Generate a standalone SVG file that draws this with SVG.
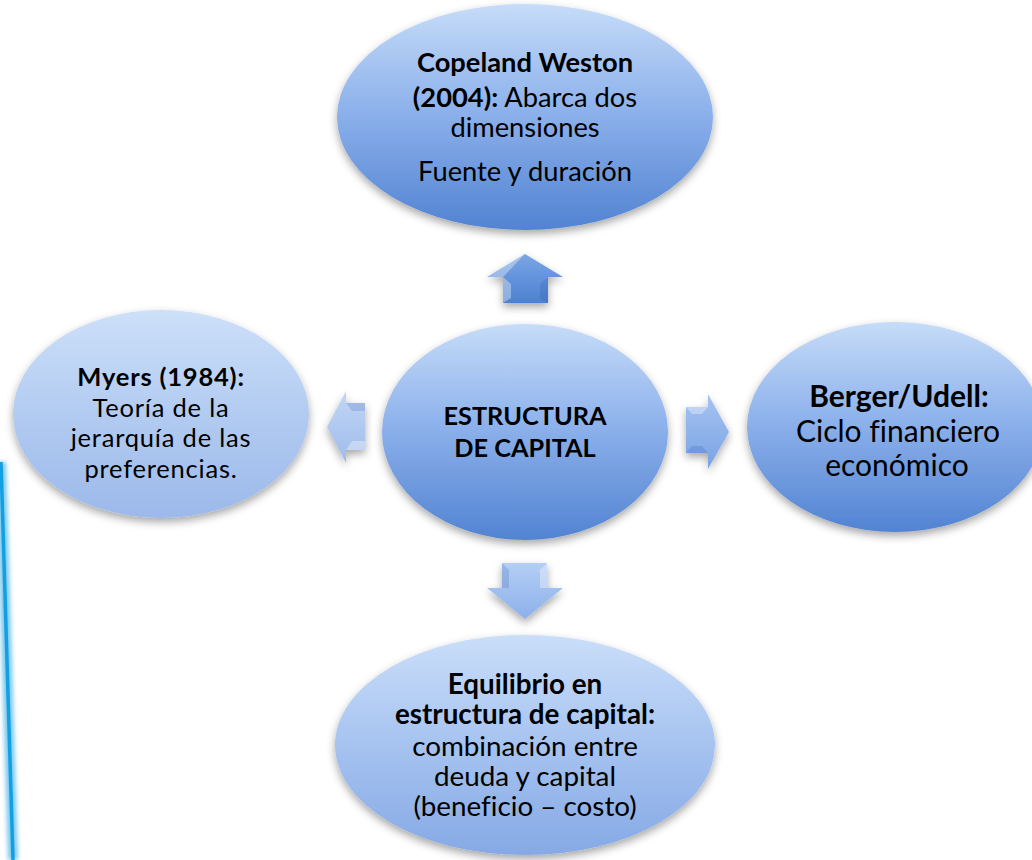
<svg xmlns="http://www.w3.org/2000/svg" width="1032" height="860" viewBox="0 0 1032 860">
  <defs>
    <linearGradient id="gDark" x1="0" y1="0" x2="0" y2="1">
      <stop offset="0" stop-color="#c6dcf8"/>
      <stop offset="0.45" stop-color="#8fb3ec"/>
      <stop offset="1" stop-color="#5283d2"/>
    </linearGradient>
    <linearGradient id="gLight" x1="0" y1="0" x2="0" y2="1">
      <stop offset="0" stop-color="#cde0f9"/>
      <stop offset="0.5" stop-color="#b2cbf1"/>
      <stop offset="1" stop-color="#9cb9ea"/>
    </linearGradient>
    <linearGradient id="gMid" x1="0" y1="0" x2="0" y2="1">
      <stop offset="0" stop-color="#cadef9"/>
      <stop offset="0.5" stop-color="#a6c3f0"/>
      <stop offset="1" stop-color="#86a9e5"/>
    </linearGradient>
    <linearGradient id="aUp" x1="0" y1="0" x2="0" y2="1">
      <stop offset="0" stop-color="#7aa6e6"/>
      <stop offset="1" stop-color="#4d80d0"/>
    </linearGradient>
    <linearGradient id="aLeft" x1="0" y1="0" x2="0" y2="1">
      <stop offset="0" stop-color="#c2d7f6"/>
      <stop offset="1" stop-color="#9fbbea"/>
    </linearGradient>
    <linearGradient id="aRight" x1="0" y1="0" x2="0" y2="1">
      <stop offset="0" stop-color="#a5c4f2"/>
      <stop offset="1" stop-color="#7aa2e3"/>
    </linearGradient>
    <linearGradient id="aDown" x1="0" y1="0" x2="0" y2="1">
      <stop offset="0" stop-color="#b4cff5"/>
      <stop offset="1" stop-color="#8cb0ea"/>
    </linearGradient>
    <filter id="shadow" x="-20%" y="-20%" width="140%" height="150%">
      <feDropShadow dx="0" dy="4" stdDeviation="4" flood-color="#000" flood-opacity="0.35"/>
    </filter>
    <filter id="blur" x="-200%" y="-10%" width="500%" height="120%">
      <feGaussianBlur stdDeviation="2"/>
    </filter>
  </defs>
  <style>
    .t { font-family: Lato, "Open Sans", "Liberation Sans", sans-serif; font-size: 27.3px; fill: #000; text-anchor: middle; font-variant-ligatures: none; font-feature-settings: "liga" 0; }
    .b { font-weight: bold; }
    .l { font-size: 25.5px; letter-spacing: 0.8px; }
    .r { font-size: 30px; }
    .c { font-size: 25.3px; }
    .bt { font-size: 27.8px; }
    .node ellipse { filter: url(#shadow); }
    .arrow polygon.body { filter: url(#shadow); }
    .hl { fill: #ffffff; opacity: 0.35; }
    .dk { fill: #1f4f9e; opacity: 0.18; }
  </style>

  <rect width="1032" height="860" fill="#ffffff"/>

  <!-- left decorative stripe -->
  <g id="stripe">
    <line x1="1" y1="462" x2="13" y2="860" stroke="#7cc9f0" stroke-width="10" filter="url(#blur)"/>
    <line x1="1" y1="462" x2="13" y2="860" stroke="#12a0e2" stroke-width="3.5"/>
  </g>

  <!-- connectors (block arrows) -->
  <g id="connectors">
    <g class="arrow" id="arrow-up">
      <polygon class="body" points="525,254 563,277 548,277 548,303 503,303 503,277 487,277" fill="url(#aUp)"/>
      <polygon class="hl" points="503,277 511,284 511,298 503,303"/>
      <polygon class="hl" points="525,254 487,277 503,277"/>
      <polygon class="dk" points="548,277 540,284 540,298 548,303"/>
    </g>
    <g class="arrow" id="arrow-left">
      <polygon class="body" points="327,427 346,391 346,403 365,403 365,450 346,450 346,463" fill="url(#aLeft)"/>
      <polygon class="hl" points="346,450 352,441 365,441 365,450"/>
      <polygon class="dk" points="346,403 352,411 365,411 365,403"/>
    </g>
    <g class="arrow" id="arrow-right">
      <polygon class="body" points="686,407 708,407 708,394 729,432 708,469 708,453 686,453" fill="url(#aRight)"/>
      <polygon class="hl" points="686,407 708,407 702,414 692,414"/>
      <polygon class="dk" points="686,453 708,453 702,446 692,446"/>
    </g>
    <g class="arrow" id="arrow-down">
      <polygon class="body" points="502,563 547,563 547,588 563,588 525,619 487,588 502,588" fill="url(#aDown)"/>
      <polygon class="hl" points="547,563 540,570 540,588 547,588"/>
      <polygon class="dk" points="502,563 509,570 509,588 502,588"/>
    </g>
  </g>

  <!-- nodes -->
  <g class="node" id="node-top">
    <ellipse cx="525" cy="117" rx="188" ry="113" fill="url(#gDark)"/>
    <text class="t b" x="525" y="72">Copeland Weston</text>
    <text class="t" x="525" y="107"><tspan class="b">(2004):</tspan> Abarca dos</text>
    <text class="t" x="525" y="137">dimensiones</text>
    <text class="t" x="525" y="181">Fuente y duración</text>
  </g>

  <g class="node" id="node-left">
    <ellipse cx="161" cy="414" rx="148" ry="104" fill="url(#gLight)"/>
    <text class="t l b" x="161" y="386">Myers (1984):</text>
    <text class="t l" x="161" y="416.5">Teoría de la</text>
    <text class="t l" x="161" y="447">jerarquía de las</text>
    <text class="t l" x="161" y="477.5">preferencias.</text>
  </g>

  <g class="node" id="node-center">
    <ellipse cx="525" cy="432" rx="143" ry="108" fill="url(#gDark)"/>
    <text class="t c b" x="525" y="425">ESTRUCTURA</text>
    <text class="t c b" x="525" y="457">DE CAPITAL</text>
  </g>

  <g class="node" id="node-right">
    <ellipse cx="895" cy="427" rx="148" ry="105" fill="url(#gDark)"/>
    <text class="t r b" x="899" y="407">Berger/Udell:</text>
    <text class="t r" x="898" y="442">Ciclo financiero</text>
    <text class="t r" x="897" y="476">económico</text>
  </g>

  <g class="node" id="node-bottom">
    <ellipse cx="525" cy="745" rx="190" ry="110" fill="url(#gMid)"/>
    <text class="t bt b" x="525" y="694">Equilibrio en</text>
    <text class="t bt b" x="525" y="724">estructura de capital:</text>
    <text class="t bt" x="525" y="756">combinación entre</text>
    <text class="t bt" x="525" y="786">deuda y capital</text>
    <text class="t bt" x="525" y="816">(beneficio – costo)</text>
  </g>
</svg>
